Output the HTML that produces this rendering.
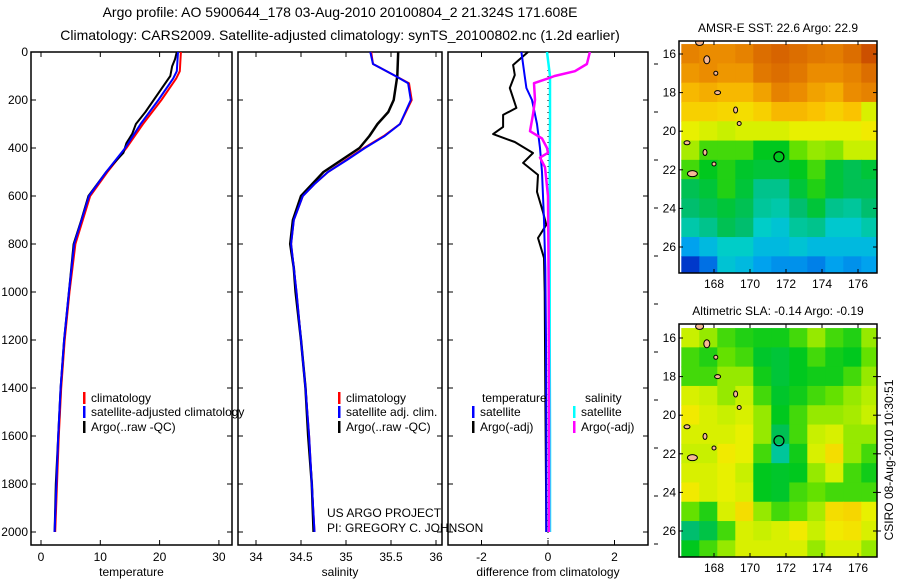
<!DOCTYPE html>
<html><head><meta charset="utf-8"><style>
html,body{margin:0;padding:0;background:#fff}
svg{display:block;font-family:"Liberation Sans",sans-serif}
text{fill:#000}
</style></head><body>
<svg id="chart" width="900" height="580" xmlns="http://www.w3.org/2000/svg">
<g>
<text x="340" y="17" font-size="14" text-anchor="middle">Argo profile: AO 5900644_178 03-Aug-2010 20100804_2 21.324S 171.608E</text>
<text x="340" y="40" font-size="14" text-anchor="middle">Climatology: CARS2009. Satellite-adjusted climatology: synTS_20100802.nc (1.2d earlier)</text>
</g>
<g id="panels"></g>
<g id="maps"></g>
<text x="327" y="517" font-size="12">US ARGO PROJECT</text>
<text x="327" y="532" font-size="12">PI: GREGORY C. JOHNSON</text>
<text transform="translate(893,460) rotate(-90)" font-size="12" text-anchor="middle">CSIRO 08-Aug-2010 10:30:51</text>
</svg>
<script>
const depthTicks=[0,200,400,600,800,1000,1200,1400,1600,1800,2000];
const tempTicks=[0,10,20,30];
const salTicks=[34,34.5,35,35.5,36];
const diffTicks=[-2,0,2];
const tClimD=[0,80,110,200,300,400,500,600,800,1000,1200,1400,1600,1800,2000];
const tClimV=[23.6,23.4,22.8,20.3,17.2,14.4,11.2,8.3,5.8,4.8,4.0,3.4,3.0,2.7,2.4];
const tSatD=[0,80,110,200,300,400,500,600,800,1000,1200,1400,1600,1800,2000];
const tSatV=[23.1,22.9,22.3,19.8,16.8,14.2,11.0,8.1,5.6,4.7,3.9,3.3,2.9,2.6,2.3];
const tArgD=[0,30,60,100,150,200,250,300,340,380,420,460,500,600,700,800,1000,1200,1400,1600,1800,2000];
const tArgV=[22.9,22.6,22.1,21.8,20.4,19.0,17.6,16.0,15.4,14.4,13.9,12.4,11.0,8.0,6.8,5.5,4.7,3.9,3.3,2.9,2.5,2.3];
const sClimD=[0,50,100,130,200,300,350,400,450,500,550,600,700,800,900,1000,1200,1400,1600,1800,2000];
const sClimV=[35.28,35.3,35.55,35.7,35.73,35.6,35.42,35.2,35.0,34.8,34.65,34.52,34.42,34.39,34.42,34.45,34.5,34.55,34.59,34.62,34.65];
const sSatD=[0,50,100,130,200,300,350,400,450,500,550,600,700,800,900,1000,1200,1400,1600,1800,2000];
const sSatV=[35.27,35.3,35.55,35.69,35.72,35.6,35.43,35.21,35.01,34.8,34.65,34.52,34.42,34.39,34.42,34.45,34.5,34.55,34.59,34.62,34.65];
const sArgD=[0,100,200,250,300,350,400,450,500,600,700,800,900,1000,1200,1400,1600,1800,2000];
const sArgV=[35.58,35.57,35.53,35.47,35.35,35.26,35.15,34.95,34.75,34.5,34.41,34.38,34.42,34.44,34.5,34.55,34.58,34.62,34.64];
const dTSatD=[0,100,150,200,300,400,500,700,900,1200,1600,2000];
const dTSatV=[-0.8,-0.7,-0.65,-0.48,-0.33,-0.24,-0.18,-0.12,-0.08,-0.06,-0.05,-0.05];
const dTArgD=[0,54,96,150,233,262,312,342,375,421,462,512,583,667,720,775,858,1000,1400,1800,2000];
const dTArgV=[-0.6,-1.05,-1.0,-1.15,-0.95,-1.35,-1.35,-1.65,-1.0,-0.45,-0.75,-0.3,-0.33,-0.15,-0.05,-0.3,-0.12,-0.1,-0.08,-0.06,-0.05];
const dSSatD=[0,100,300,500,800,1200,1600,2000];
const dSSatV=[-0.03,0.06,0.06,0.05,0.05,0.05,0.06,0.06];
const dSArgD=[0,50,80,100,110,130,200,260,330,360,400,420,440,480,600,1000,1500,2000];
const dSArgV=[1.26,1.17,0.81,0.2,0.0,-0.42,-0.39,-0.45,-0.54,-0.18,-0.03,0.0,-0.24,-0.09,0.0,0.02,0.03,0.03];
const sstRows=[
[0.82,0.8,0.8,0.82,0.86,0.88,0.86,0.84,0.83,0.86,0.92],
[0.78,0.8,0.78,0.78,0.84,0.86,0.84,0.8,0.8,0.82,0.86],
[0.72,0.74,0.72,0.72,0.76,0.82,0.8,0.76,0.74,0.8,0.82],
[0.68,0.68,0.67,0.66,0.68,0.72,0.72,0.7,0.68,0.7,0.6],
[0.62,0.6,0.58,0.6,0.6,0.6,0.62,0.62,0.62,0.62,0.64],
[0.56,0.5,0.5,0.5,0.46,0.46,0.52,0.55,0.54,0.58,0.58],
[0.5,0.46,0.48,0.45,0.44,0.44,0.46,0.5,0.44,0.42,0.44],
[0.42,0.44,0.48,0.44,0.38,0.38,0.44,0.48,0.44,0.42,0.42],
[0.4,0.42,0.44,0.42,0.37,0.36,0.4,0.44,0.38,0.37,0.4],
[0.36,0.38,0.42,0.4,0.34,0.32,0.37,0.38,0.33,0.33,0.36],
[0.26,0.3,0.34,0.34,0.3,0.3,0.32,0.3,0.3,0.3,0.3],
[0.12,0.2,0.32,0.3,0.26,0.24,0.24,0.22,0.26,0.24,0.26]];
const slaRows=[
[0.58,0.55,0.5,0.48,0.47,0.47,0.5,0.55,0.5,0.48,0.55],
[0.5,0.48,0.52,0.5,0.45,0.44,0.46,0.5,0.47,0.46,0.52],
[0.5,0.5,0.55,0.55,0.47,0.44,0.46,0.47,0.47,0.5,0.55],
[0.6,0.58,0.55,0.58,0.5,0.45,0.47,0.5,0.52,0.55,0.57],
[0.64,0.6,0.58,0.6,0.55,0.46,0.5,0.55,0.55,0.56,0.58],
[0.6,0.6,0.6,0.62,0.55,0.42,0.5,0.58,0.6,0.55,0.55],
[0.58,0.58,0.64,0.62,0.5,0.37,0.47,0.6,0.66,0.55,0.5],
[0.6,0.6,0.62,0.58,0.46,0.45,0.46,0.55,0.6,0.5,0.47],
[0.64,0.6,0.62,0.6,0.46,0.45,0.5,0.52,0.5,0.5,0.5],
[0.52,0.48,0.6,0.66,0.55,0.5,0.52,0.56,0.66,0.67,0.62],
[0.4,0.43,0.5,0.6,0.58,0.6,0.64,0.58,0.64,0.65,0.6],
[0.46,0.5,0.55,0.6,0.6,0.6,0.6,0.55,0.6,0.6,0.55]];
const lonTicks=[168,170,172,174,176];
const latTicks=[16,18,20,22,24,26];
const argoLon=171.608, argoLat=21.324;

const NS='http://www.w3.org/2000/svg';
function mk(tag,attrs,parent){const e=document.createElementNS(NS,tag);for(const k in attrs)e.setAttribute(k,attrs[k]);parent.appendChild(e);return e;}
const yDepth=d=>52+d*0.24;
const panelsG=document.getElementById('panels');
function axisX(x0,v0,scale){return v=>x0+(v-v0)*scale;}
const panels=[
 {x:31,w:201,xs:axisX(41,0,5.93),ticks:tempTicks,label:'temperature',name:'temperature-panel'},
 {x:238,w:204,xs:axisX(256,34,90),ticks:salTicks,label:'salinity',name:'salinity-panel'},
 {x:448,w:200,xs:axisX(548,0,33.25),ticks:diffTicks,label:'difference from climatology',name:'difference-panel'}];
panels.forEach((p,i)=>{
 const g=mk('g',{},panelsG);
 
 
 mk('rect',{x:p.x,y:52,width:p.w,height:493,fill:'none',stroke:'#000','stroke-width':1.5},g);
 p.ticks.forEach(t=>{const x=p.xs(t);
  mk('line',{x1:x,x2:x,y1:545,y2:540,stroke:'#000'},g);
  mk('line',{x1:x,x2:x,y1:52,y2:57,stroke:'#000'},g);
  const tx=mk('text',{x:x,y:561,'font-size':12,'text-anchor':'middle'},g);tx.textContent=String(t);
  
  });
 const lb=mk('text',{x:p.x+p.w/2,y:576,'font-size':12,'text-anchor':'middle'},g);lb.textContent=p.label;
 
 
 depthTicks.forEach(d=>{const y=yDepth(d);
  mk('line',{x1:p.x,x2:p.x+5,y1:y,y2:y,stroke:'#000'},g);
  mk('line',{x1:p.x+p.w,x2:p.x+p.w-5,y1:y,y2:y,stroke:'#000'},g);
  if(i===0){const t=mk('text',{x:28,y:y+4,'font-size':12,'text-anchor':'end'},g);t.textContent=String(d);
   
   }
  if(i===2){mk('line',{x1:p.x+p.w+6,x2:p.x+p.w+10,y1:y+12,y2:y+12,stroke:'#000'},g);}
 });
});
function line(D,V,xs,color,w,name){
 const pts=D.map((d,k)=>xs(V[k]).toFixed(1)+','+yDepth(d).toFixed(1)).join(' ');
 const e=mk('polyline',{points:pts,fill:'none',stroke:color,'stroke-width':w,'stroke-linejoin':'round'},panelsG);
 
 
}
const P=panels;
line(tClimD,tClimV,P[0].xs,'#f00',2,'temperature-climatology-line');
line(tArgD,tArgV,P[0].xs,'#000',2,'temperature-argo-line');
line(tSatD,tSatV,P[0].xs,'#00f',2,'temperature-satellite-line');
line(sClimD,sClimV,P[1].xs,'#f00',2,'salinity-climatology-line');
line(sArgD,sArgV,P[1].xs,'#000',2.5,'salinity-argo-line');
line(sSatD,sSatV,P[1].xs,'#00f',2,'salinity-satellite-line');
mk('line',{x1:548,x2:548,y1:52,y2:545,stroke:'#000','stroke-dasharray':'1,5'},panelsG);
line(dTArgD,dTArgV,P[2].xs,'#000',2,'temp-diff-argo-line');
line(dTSatD,dTSatV,P[2].xs,'#00f',2,'temp-diff-satellite-line');
line(dSSatD,dSSatV,P[2].xs,'#0ff',2.5,'sal-diff-satellite-line');
line(dSArgD,dSArgV,P[2].xs,'#f0f',2.5,'sal-diff-argo-line');
function leg(x,y,color,label,name){
 const g=mk('g',{},panelsG);
 
 
 if(color)mk('rect',{x:x,y:y-10,width:2.5,height:12,fill:color},g);
 const t=mk('text',{x:x+8,y:y,'font-size':12},g);t.textContent=label;
}
leg(83,402,'#f00','climatology','legend-entry-climatology');
leg(83,416,'#00f','satellite-adjusted climatology','legend-entry-satellite');
leg(83,431,'#000','Argo(..raw -QC)','legend-entry-argo');
leg(338,402,'#f00','climatology','legend-entry-climatology-sal');
leg(338,416,'#00f','satellite adj. clim.','legend-entry-satellite-sal');
leg(338,431,'#000','Argo(..raw -QC)','legend-entry-argo-sal');
leg(474,402,null,'temperature','legend-header-temperature');
leg(577,402,null,'salinity','legend-header-salinity');
leg(472,416,'#00f','satellite','legend-entry-temp-satellite');
leg(472,431,'#000','Argo(-adj)','legend-entry-temp-argo');
leg(573,416,'#0ff','satellite','legend-entry-sal-satellite');
leg(573,431,'#f0f','Argo(-adj)','legend-entry-sal-argo');
const stops=[[0,[0,0,130]],[0.15,[0,70,220]],[0.27,[0,170,240]],[0.34,[0,205,200]],[0.4,[0,190,110]],[0.46,[0,200,30]],[0.52,[100,225,0]],[0.58,[200,240,0]],[0.63,[240,240,0]],[0.7,[250,195,0]],[0.8,[235,140,0]],[0.9,[210,90,0]],[1,[180,40,0]]];
function cmap(v){for(let i=1;i<stops.length;i++){if(v<=stops[i][0]){const a=stops[i-1],b=stops[i],f=(v-a[0])/(b[0]-a[0]);return 'rgb('+a[1].map((c,k)=>Math.round(c+(b[1][k]-c)*f)).join(',')+')';}}return 'rgb(180,40,0)';}
const mapsG=document.getElementById('maps');
function drawMap(rows,top,bot,lat16,lat26,title,name,rightTicks){
 const g=mk('g',{},mapsG);
 
 
 const lonX=l=>714+(l-168)*18;
 const latY=l=>lat16+(l-16)*(lat26-lat16)/10;
 const x0=679,x1=877;
 const cp=mk('clipPath',{id:'c'+name},g);mk('rect',{x:x0,y:top,width:x1-x0,height:bot-top},cp);
 const cg=mk('g',{'clip-path':'url(#c'+name+')'},g);
 rows.forEach((r,i)=>r.forEach((v,j)=>{
  const c=mk('rect',{x:lonX(166.2+j)-0.3,y:latY(15.5+i)-0.3,width:18.6,height:(lat26-lat16)/10+0.6,fill:cmap(v)},cg);
  
  
 }));
 [[167.2,15.4,4,3],[167.6,16.3,3,4],[168.1,17.0,2,2],[168.2,18.0,3,2],[169.2,18.9,2,3],[169.4,19.6,2,2],[166.5,20.6,3,2],[167.5,21.1,2,3],[168.0,21.7,2,2],[166.8,22.2,5,3]].forEach(a=>{
  mk('ellipse',{cx:lonX(a[0]),cy:latY(a[1]),rx:a[2],ry:a[3],fill:'#f5b896',stroke:'#000','stroke-width':1},cg);});
 mk('circle',{cx:lonX(argoLon),cy:latY(argoLat),r:5,fill:'none',stroke:'#000','stroke-width':1.2},g);
 mk('rect',{x:x0,y:top,width:x1-x0,height:bot-top,fill:'none',stroke:'#000','stroke-width':1.5},g);
 lonTicks.forEach(l=>{const x=lonX(l);mk('line',{x1:x,x2:x,y1:top,y2:top+4,stroke:'#000'},g);mk('line',{x1:x,x2:x,y1:bot,y2:bot-4,stroke:'#000'},g);
  const t=mk('text',{x:x,y:bot+15,'font-size':12,'text-anchor':'middle'},g);t.textContent=String(l);});
 latTicks.forEach(l=>{const y=latY(l);mk('line',{x1:x0,x2:x0+4,y1:y,y2:y,stroke:'#000'},g);mk('line',{x1:x1,x2:x1-4,y1:y,y2:y,stroke:'#000'},g);
  if(rightTicks)mk('line',{x1:x1,x2:x1+4,y1:y,y2:y,stroke:'#000'},g);
  const t=mk('text',{x:676,y:y+4,'font-size':12,'text-anchor':'end'},g);t.textContent=String(l);});
 const tt=mk('text',{x:778,y:top-9,'font-size':12,'text-anchor':'middle'},g);tt.textContent=title;
}
drawMap(sstRows,41,273,54,247,'AMSR-E SST: 22.6 Argo: 22.9','sst-map',false);
drawMap(slaRows,324,557,338,531,'Altimetric SLA: -0.14 Argo: -0.19','sla-map',true);
</script>
</body></html>
